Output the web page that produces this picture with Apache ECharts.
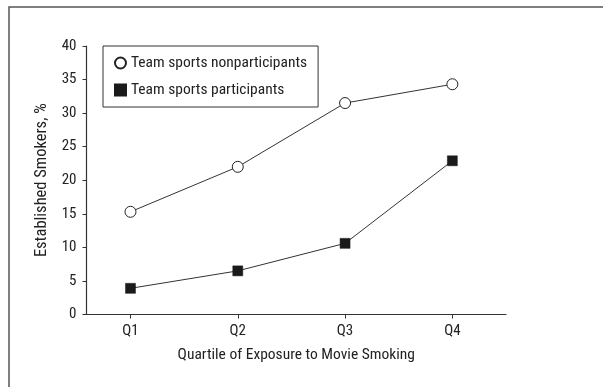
<!DOCTYPE html>
<html><head><meta charset="utf-8">
<script src="https://cdn.jsdelivr.net/npm/echarts@6/dist/echarts.min.js"></script>
<style>html,body{margin:0;padding:0;background:#fff}#c{width:603px;height:387px}</style>
</head><body><div id="c"></div>
<script>
const categories = ['Q1', 'Q2', 'Q3', 'Q4'];
const nonparticipants = [15.3, 22.0, 31.5, 34.3];
const participants = [3.9, 6.5, 10.6, 22.9];
const yTicks = [0, 5, 10, 15, 20, 25, 30, 35, 40];
const seriesNames = ['Team sports nonparticipants', 'Team sports participants'];
const xTitle = 'Quartile of Exposure to Movie Smoking';
const yTitle = 'Established Smokers, %';

const FONT = '"Liberation Sans Narrow", "Arial Narrow", "Roboto Condensed", sans-serif';
const ink = '#222';
const pos = categories.map((c, i) => i + 1);

const chart = echarts.init(document.getElementById('c'), null, {renderer: 'canvas'});
chart.setOption({
  animation: false,
  textStyle: {fontFamily: FONT, color: ink},
  graphic: [{
    type: 'rect', shape: {x: 9, y: 7, width: 700, height: 500},
    style: {fill: 'none', stroke: '#555', lineWidth: 1.5}, silent: true, z: -1
  }],
  grid: {left: 86.5, top: 46, right: 97, bottom: 72.5, containLabel: false},
  legend: {
    left: 103, top: 46, orient: 'vertical',
    borderColor: '#333', borderWidth: 1,
    padding: [9, 11, 9, 11], itemGap: 11, itemWidth: 11, itemHeight: 11,
    textStyle: {fontFamily: FONT, fontSize: 15.5, color: ink},
    data: [{name: seriesNames[0], icon: 'circle'}, {name: seriesNames[1], icon: 'rect'}]
  },
  xAxis: {
    type: 'value', min: 0.59, max: 4.5,
    name: xTitle, nameLocation: 'middle', nameGap: 33,
    nameTextStyle: {fontFamily: FONT, fontSize: 15.5, color: ink},
    axisLine: {show: true, lineStyle: {color: '#333', width: 1.2}},
    axisTick: {show: true, customValues: pos, length: 4, lineStyle: {color: '#333'}},
    axisLabel: {customValues: pos, margin: 9, fontSize: 15, color: ink, fontFamily: FONT,
      formatter: v => categories[Math.round(v) - 1] || ''},
    splitLine: {show: false}
  },
  yAxis: {
    type: 'value', min: yTicks[0], max: yTicks[yTicks.length - 1], interval: yTicks[1] - yTicks[0],
    name: yTitle, nameLocation: 'middle', nameGap: 34,
    nameTextStyle: {fontFamily: FONT, fontSize: 16.5, color: ink},
    axisLine: {show: true, lineStyle: {color: '#333', width: 1.2}},
    axisTick: {show: true, length: 4, lineStyle: {color: '#333'}},
    axisLabel: {margin: 10, fontSize: 15, color: ink, fontFamily: FONT},
    splitLine: {show: false}
  },
  series: [{
    name: seriesNames[0], type: 'line',
    data: nonparticipants.map((v, i) => [pos[i], v]),
    symbol: 'circle', symbolSize: 11,
    itemStyle: {color: '#fff', borderColor: '#222', borderWidth: 1},
    lineStyle: {color: '#333', width: 1}, z: 3
  }, {
    name: seriesNames[1], type: 'line',
    data: participants.map((v, i) => [pos[i], v]),
    symbol: 'rect', symbolSize: 10,
    itemStyle: {color: '#1a1a1a', borderColor: '#1a1a1a', borderWidth: 0.5},
    lineStyle: {color: '#333', width: 1}, z: 3
  }]
});
</script></body></html>
